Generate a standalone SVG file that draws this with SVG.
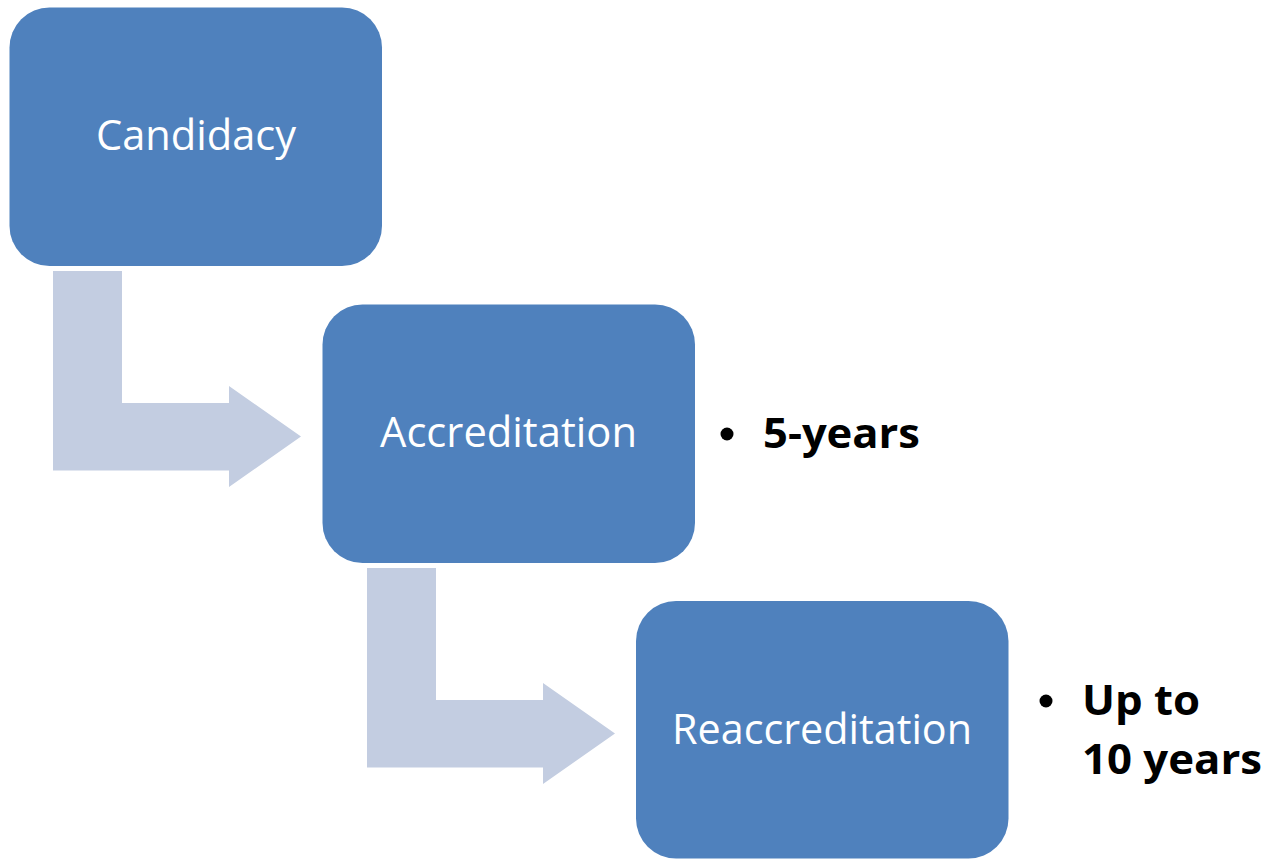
<svg xmlns="http://www.w3.org/2000/svg" width="1270" height="859" viewBox="0 0 1270 859">
  <style>
    .box { fill: #4F81BD; }
    .arrow { fill: #C3CDE1; }
    .label { font-family: "Open Sans", "Liberation Sans", sans-serif; font-size: 42px; fill: #FFFFFF; text-anchor: middle; }
    .note { font-family: "Open Sans", "Liberation Sans", sans-serif; font-size: 41px; font-weight: bold; fill: #000000; }
  </style>
  <rect width="1270" height="859" fill="#FFFFFF"/>
  <g id="connectors">
    <path class="arrow" d="M53,271 H122 V403 H229 V386 L301,436.5 L229,487 V470.5 H53 Z"/>
    <path class="arrow" d="M367,568 H436 V700 H543 V683 L615,733.5 L543,784 V767.5 H367 Z"/>
  </g>
  <g id="candidacy">
    <rect class="box" x="9.5" y="7.5" width="372.5" height="258.5" rx="40" ry="40"/>
    <text class="label" x="196" y="150" textLength="200" lengthAdjust="spacingAndGlyphs">Candidacy</text>
  </g>
  <g id="accreditation">
    <rect class="box" x="322.5" y="304.5" width="372.5" height="258.5" rx="40" ry="40"/>
    <text class="label" x="508.5" y="447" textLength="257" lengthAdjust="spacingAndGlyphs">Accreditation</text>
  </g>
  <g id="reaccreditation">
    <rect class="box" x="636" y="601" width="372.5" height="257.5" rx="40" ry="40"/>
    <text class="label" x="822" y="744" textLength="300" lengthAdjust="spacingAndGlyphs">Reaccreditation</text>
  </g>
  <g id="note-accreditation">
    <circle cx="727" cy="434" r="6.5" fill="#000000"/>
    <text class="note" x="763" y="448" textLength="157" lengthAdjust="spacingAndGlyphs">5-years</text>
  </g>
  <g id="note-reaccreditation">
    <circle cx="1046" cy="701" r="6.5" fill="#000000"/>
    <text class="note" x="1082" y="715" textLength="118" lengthAdjust="spacingAndGlyphs">Up to</text>
    <text class="note" x="1082" y="774" textLength="180" lengthAdjust="spacingAndGlyphs">10 years</text>
  </g>
</svg>
